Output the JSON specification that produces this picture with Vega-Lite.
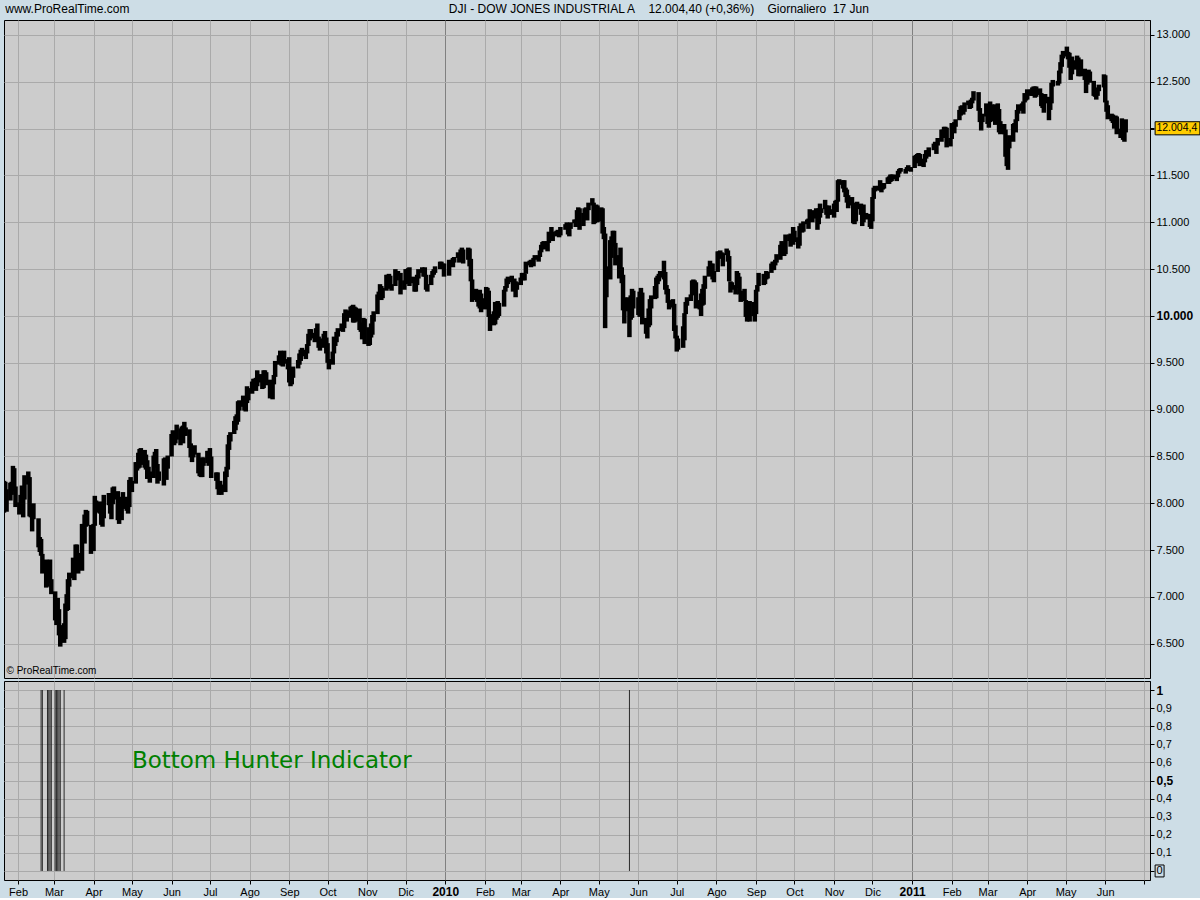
{
"$schema":"https://vega.github.io/schema/vega-lite/v6.json",
"background":"#cddde6",
"padding":{"left":3,"top":2,"right":0,"bottom":0},
"spacing":1,
"config":{
"view":{"stroke":"#000000","strokeWidth":1,"fill":"#cccccc"},
"font":"Liberation Sans",
"axis":{"labelFont":"Liberation Sans","labelFontSize":11,"labelColor":"#000000","gridColor":"#aaaaaa","gridWidth":1,"gridOpacity":1,"tickColor":"#000000","domainColor":"#000000","title":null}
},
"datasets":{
"dji":[
{"d":"2009-01-21","l":7900,"h":8240},{"d":"2009-01-22","l":7980,"h":8230},{"d":"2009-01-23","l":7910,"h":8150},{"d":"2009-01-26","l":8030,"h":8220},{"d":"2009-01-27","l":8090,"h":8230},{"d":"2009-01-28","l":8175,"h":8400},{"d":"2009-01-29","l":8130,"h":8375},{"d":"2009-01-30","l":7960,"h":8180},
{"d":"2009-02-02","l":7880,"h":8010},{"d":"2009-02-03","l":7910,"h":8090},{"d":"2009-02-04","l":7970,"h":8190},{"d":"2009-02-05","l":7850,"h":8100},{"d":"2009-02-06","l":8040,"h":8300},{"d":"2009-02-09","l":8200,"h":8340},{"d":"2009-02-10","l":7860,"h":8280},{"d":"2009-02-11","l":7850,"h":7990},{"d":"2009-02-12","l":7700,"h":7950},{"d":"2009-02-13","l":7830,"h":8000},{"d":"2009-02-17","l":7530,"h":7840},{"d":"2009-02-18","l":7480,"h":7640},{"d":"2009-02-19","l":7440,"h":7620},{"d":"2009-02-20","l":7250,"h":7460},{"d":"2009-02-23","l":7100,"h":7400},{"d":"2009-02-24","l":7110,"h":7370},{"d":"2009-02-25","l":7150,"h":7380},{"d":"2009-02-26","l":7170,"h":7400},{"d":"2009-02-27","l":7030,"h":7190},
{"d":"2009-03-02","l":6750,"h":7060},{"d":"2009-03-03","l":6700,"h":6880},{"d":"2009-03-04","l":6730,"h":6990},{"d":"2009-03-05","l":6590,"h":6870},{"d":"2009-03-06","l":6470,"h":6700},{"d":"2009-03-09","l":6510,"h":6720},{"d":"2009-03-10","l":6550,"h":6930},{"d":"2009-03-11","l":6850,"h":7030},{"d":"2009-03-12","l":6860,"h":7190},{"d":"2009-03-13","l":7110,"h":7260},{"d":"2009-03-16","l":7200,"h":7420},{"d":"2009-03-17","l":7180,"h":7400},{"d":"2009-03-18","l":7300,"h":7560},{"d":"2009-03-19","l":7370,"h":7560},{"d":"2009-03-20","l":7250,"h":7470},{"d":"2009-03-23","l":7280,"h":7780},{"d":"2009-03-24","l":7640,"h":7780},{"d":"2009-03-25","l":7570,"h":7880},{"d":"2009-03-26","l":7750,"h":7930},{"d":"2009-03-27","l":7760,"h":7920},{"d":"2009-03-30","l":7460,"h":7770},{"d":"2009-03-31","l":7530,"h":7750},
{"d":"2009-04-01","l":7490,"h":7780},{"d":"2009-04-02","l":7760,"h":8080},{"d":"2009-04-03","l":7900,"h":8030},{"d":"2009-04-06","l":7890,"h":8020},{"d":"2009-04-07","l":7770,"h":7970},{"d":"2009-04-08","l":7750,"h":7880},{"d":"2009-04-09","l":7840,"h":8090},{"d":"2009-04-13","l":7980,"h":8110},{"d":"2009-04-14","l":7890,"h":8060},{"d":"2009-04-15","l":7830,"h":8040},{"d":"2009-04-16","l":7990,"h":8170},{"d":"2009-04-17","l":8040,"h":8180},{"d":"2009-04-20","l":7820,"h":8130},{"d":"2009-04-21","l":7780,"h":7990},{"d":"2009-04-22","l":7860,"h":8070},{"d":"2009-04-23","l":7820,"h":7990},{"d":"2009-04-24","l":7940,"h":8120},{"d":"2009-04-27","l":7920,"h":8070},{"d":"2009-04-28","l":7890,"h":8030},{"d":"2009-04-29","l":7960,"h":8250},{"d":"2009-04-30","l":8130,"h":8280},
{"d":"2009-05-01","l":8120,"h":8240},{"d":"2009-05-04","l":8210,"h":8440},{"d":"2009-05-05","l":8350,"h":8440},{"d":"2009-05-06","l":8370,"h":8540},{"d":"2009-05-07","l":8380,"h":8580},{"d":"2009-05-08","l":8410,"h":8590},{"d":"2009-05-11","l":8380,"h":8570},{"d":"2009-05-12","l":8360,"h":8520},{"d":"2009-05-13","l":8260,"h":8460},{"d":"2009-05-14","l":8270,"h":8390},{"d":"2009-05-15","l":8220,"h":8340},{"d":"2009-05-18","l":8270,"h":8510},{"d":"2009-05-19","l":8420,"h":8550},{"d":"2009-05-20","l":8380,"h":8580},{"d":"2009-05-21","l":8210,"h":8420},{"d":"2009-05-22","l":8240,"h":8340},{"d":"2009-05-26","l":8190,"h":8480},{"d":"2009-05-27","l":8290,"h":8490},{"d":"2009-05-28","l":8250,"h":8420},{"d":"2009-05-29","l":8370,"h":8510},
{"d":"2009-06-01","l":8500,"h":8740},{"d":"2009-06-02","l":8670,"h":8780},{"d":"2009-06-03","l":8620,"h":8740},{"d":"2009-06-04","l":8640,"h":8760},{"d":"2009-06-05","l":8680,"h":8840},{"d":"2009-06-08","l":8620,"h":8800},{"d":"2009-06-09","l":8720,"h":8820},{"d":"2009-06-10","l":8640,"h":8830},{"d":"2009-06-11","l":8720,"h":8870},{"d":"2009-06-12","l":8720,"h":8810},{"d":"2009-06-15","l":8590,"h":8790},{"d":"2009-06-16","l":8490,"h":8640},{"d":"2009-06-17","l":8440,"h":8560},{"d":"2009-06-18","l":8490,"h":8600},{"d":"2009-06-19","l":8520,"h":8620},{"d":"2009-06-22","l":8320,"h":8540},{"d":"2009-06-23","l":8290,"h":8390},{"d":"2009-06-24","l":8280,"h":8420},{"d":"2009-06-25","l":8280,"h":8490},{"d":"2009-06-26","l":8400,"h":8490},{"d":"2009-06-29","l":8430,"h":8560},{"d":"2009-06-30","l":8400,"h":8560},
{"d":"2009-07-01","l":8450,"h":8590},{"d":"2009-07-02","l":8270,"h":8500},{"d":"2009-07-06","l":8240,"h":8330},{"d":"2009-07-07","l":8150,"h":8330},{"d":"2009-07-08","l":8090,"h":8210},{"d":"2009-07-09","l":8140,"h":8240},{"d":"2009-07-10","l":8090,"h":8200},{"d":"2009-07-13","l":8120,"h":8340},{"d":"2009-07-14","l":8280,"h":8390},{"d":"2009-07-15","l":8360,"h":8630},{"d":"2009-07-16","l":8570,"h":8730},{"d":"2009-07-17","l":8660,"h":8760},{"d":"2009-07-20","l":8740,"h":8880},{"d":"2009-07-21","l":8780,"h":8930},{"d":"2009-07-22","l":8840,"h":8950},{"d":"2009-07-23","l":8870,"h":9090},{"d":"2009-07-24","l":8990,"h":9100},{"d":"2009-07-27","l":9030,"h":9150},{"d":"2009-07-28","l":8990,"h":9110},{"d":"2009-07-29","l":8980,"h":9090},{"d":"2009-07-30","l":9070,"h":9250},{"d":"2009-07-31","l":9100,"h":9230},
{"d":"2009-08-03","l":9170,"h":9300},{"d":"2009-08-04","l":9230,"h":9330},{"d":"2009-08-05","l":9210,"h":9330},{"d":"2009-08-06","l":9200,"h":9340},{"d":"2009-08-07","l":9250,"h":9420},{"d":"2009-08-10","l":9290,"h":9380},{"d":"2009-08-11","l":9220,"h":9340},{"d":"2009-08-12","l":9230,"h":9420},{"d":"2009-08-13","l":9320,"h":9420},{"d":"2009-08-14","l":9260,"h":9400},{"d":"2009-08-17","l":9120,"h":9320},{"d":"2009-08-18","l":9130,"h":9240},{"d":"2009-08-19","l":9110,"h":9290},{"d":"2009-08-20","l":9270,"h":9370},{"d":"2009-08-21","l":9350,"h":9520},{"d":"2009-08-24","l":9480,"h":9580},{"d":"2009-08-25","l":9490,"h":9630},{"d":"2009-08-26","l":9470,"h":9580},{"d":"2009-08-27","l":9460,"h":9600},{"d":"2009-08-28","l":9490,"h":9630},{"d":"2009-08-31","l":9430,"h":9540},
{"d":"2009-09-01","l":9290,"h":9560},{"d":"2009-09-02","l":9250,"h":9340},{"d":"2009-09-03","l":9270,"h":9360},{"d":"2009-09-04","l":9340,"h":9460},{"d":"2009-09-08","l":9440,"h":9530},{"d":"2009-09-09","l":9480,"h":9600},{"d":"2009-09-10","l":9520,"h":9640},{"d":"2009-09-11","l":9570,"h":9660},{"d":"2009-09-14","l":9540,"h":9640},{"d":"2009-09-15","l":9600,"h":9700},{"d":"2009-09-16","l":9680,"h":9810},{"d":"2009-09-17","l":9740,"h":9860},{"d":"2009-09-18","l":9760,"h":9860},{"d":"2009-09-21","l":9720,"h":9820},{"d":"2009-09-22","l":9770,"h":9870},{"d":"2009-09-23","l":9740,"h":9920},{"d":"2009-09-24","l":9660,"h":9780},{"d":"2009-09-25","l":9630,"h":9760},{"d":"2009-09-28","l":9660,"h":9810},{"d":"2009-09-29","l":9710,"h":9840},{"d":"2009-09-30","l":9600,"h":9770},
{"d":"2009-10-01","l":9500,"h":9710},{"d":"2009-10-02","l":9430,"h":9540},{"d":"2009-10-05","l":9480,"h":9620},{"d":"2009-10-06","l":9600,"h":9780},{"d":"2009-10-07","l":9680,"h":9750},{"d":"2009-10-08","l":9720,"h":9830},{"d":"2009-10-09","l":9780,"h":9870},{"d":"2009-10-12","l":9840,"h":9920},{"d":"2009-10-13","l":9830,"h":9890},{"d":"2009-10-14","l":9870,"h":10030},{"d":"2009-10-15","l":9960,"h":10070},{"d":"2009-10-16","l":9940,"h":10060},{"d":"2009-10-19","l":9980,"h":10100},{"d":"2009-10-20","l":9990,"h":10110},{"d":"2009-10-21","l":9930,"h":10120},{"d":"2009-10-22","l":9930,"h":10100},{"d":"2009-10-23","l":9940,"h":10090},{"d":"2009-10-26","l":9850,"h":10080},{"d":"2009-10-27","l":9830,"h":9930},{"d":"2009-10-28","l":9750,"h":9890},{"d":"2009-10-29","l":9760,"h":9980},{"d":"2009-10-30","l":9700,"h":9970},
{"d":"2009-11-02","l":9680,"h":9880},{"d":"2009-11-03","l":9690,"h":9800},{"d":"2009-11-04","l":9770,"h":9920},{"d":"2009-11-05","l":9800,"h":10010},{"d":"2009-11-06","l":9940,"h":10050},{"d":"2009-11-09","l":10020,"h":10230},{"d":"2009-11-10","l":10180,"h":10260},{"d":"2009-11-11","l":10240,"h":10340},{"d":"2009-11-12","l":10170,"h":10320},{"d":"2009-11-13","l":10190,"h":10300},{"d":"2009-11-16","l":10270,"h":10440},{"d":"2009-11-17","l":10360,"h":10440},{"d":"2009-11-18","l":10380,"h":10450},{"d":"2009-11-19","l":10290,"h":10430},{"d":"2009-11-20","l":10270,"h":10340},{"d":"2009-11-23","l":10320,"h":10500},{"d":"2009-11-24","l":10380,"h":10460},{"d":"2009-11-25","l":10430,"h":10480},{"d":"2009-11-27","l":10230,"h":10460},{"d":"2009-11-30","l":10280,"h":10380},
{"d":"2009-12-01","l":10340,"h":10500},{"d":"2009-12-02","l":10430,"h":10500},{"d":"2009-12-03","l":10350,"h":10510},{"d":"2009-12-04","l":10320,"h":10520},{"d":"2009-12-07","l":10350,"h":10420},{"d":"2009-12-08","l":10260,"h":10390},{"d":"2009-12-09","l":10260,"h":10360},{"d":"2009-12-10","l":10330,"h":10440},{"d":"2009-12-11","l":10400,"h":10500},{"d":"2009-12-14","l":10460,"h":10520},{"d":"2009-12-15","l":10420,"h":10510},{"d":"2009-12-16","l":10420,"h":10520},{"d":"2009-12-17","l":10280,"h":10440},{"d":"2009-12-18","l":10260,"h":10340},{"d":"2009-12-21","l":10330,"h":10440},{"d":"2009-12-22","l":10410,"h":10480},{"d":"2009-12-23","l":10440,"h":10500},{"d":"2009-12-24","l":10460,"h":10530},{"d":"2009-12-28","l":10500,"h":10580},{"d":"2009-12-29","l":10530,"h":10580},{"d":"2009-12-30","l":10510,"h":10560},{"d":"2009-12-31","l":10420,"h":10560},
{"d":"2010-01-04","l":10430,"h":10600},{"d":"2010-01-05","l":10540,"h":10590},{"d":"2010-01-06","l":10550,"h":10600},{"d":"2010-01-07","l":10520,"h":10620},{"d":"2010-01-08","l":10570,"h":10630},{"d":"2010-01-11","l":10620,"h":10680},{"d":"2010-01-12","l":10570,"h":10660},{"d":"2010-01-13","l":10600,"h":10710},{"d":"2010-01-14","l":10660,"h":10730},{"d":"2010-01-15","l":10560,"h":10710},{"d":"2010-01-19","l":10600,"h":10730},{"d":"2010-01-20","l":10530,"h":10720},{"d":"2010-01-21","l":10370,"h":10610},{"d":"2010-01-22","l":10150,"h":10390},{"d":"2010-01-25","l":10170,"h":10290},{"d":"2010-01-26","l":10150,"h":10270},{"d":"2010-01-27","l":10100,"h":10260},{"d":"2010-01-28","l":10080,"h":10280},{"d":"2010-01-29","l":10040,"h":10240},
{"d":"2010-02-01","l":10070,"h":10190},{"d":"2010-02-02","l":10180,"h":10310},{"d":"2010-02-03","l":10250,"h":10300},{"d":"2010-02-04","l":9990,"h":10270},{"d":"2010-02-05","l":9840,"h":10020},{"d":"2010-02-08","l":9900,"h":10050},{"d":"2010-02-09","l":9910,"h":10150},{"d":"2010-02-10","l":9960,"h":10090},{"d":"2010-02-11","l":9980,"h":10160},{"d":"2010-02-12","l":10000,"h":10140},{"d":"2010-02-16","l":10100,"h":10280},{"d":"2010-02-17","l":10260,"h":10320},{"d":"2010-02-18","l":10300,"h":10400},{"d":"2010-02-19","l":10340,"h":10420},{"d":"2010-02-22","l":10360,"h":10430},{"d":"2010-02-23","l":10260,"h":10390},{"d":"2010-02-24","l":10280,"h":10400},{"d":"2010-02-25","l":10200,"h":10370},{"d":"2010-02-26","l":10280,"h":10360},
{"d":"2010-03-01","l":10330,"h":10410},{"d":"2010-03-02","l":10390,"h":10460},{"d":"2010-03-03","l":10380,"h":10460},{"d":"2010-03-04","l":10380,"h":10450},{"d":"2010-03-05","l":10450,"h":10580},{"d":"2010-03-08","l":10540,"h":10590},{"d":"2010-03-09","l":10520,"h":10600},{"d":"2010-03-10","l":10540,"h":10600},{"d":"2010-03-11","l":10530,"h":10620},{"d":"2010-03-12","l":10600,"h":10650},{"d":"2010-03-15","l":10580,"h":10650},{"d":"2010-03-16","l":10630,"h":10700},{"d":"2010-03-17","l":10680,"h":10760},{"d":"2010-03-18","l":10720,"h":10790},{"d":"2010-03-19","l":10710,"h":10800},{"d":"2010-03-22","l":10690,"h":10800},{"d":"2010-03-23","l":10780,"h":10900},{"d":"2010-03-24","l":10810,"h":10890},{"d":"2010-03-25","l":10830,"h":10950},{"d":"2010-03-26","l":10800,"h":10900},{"d":"2010-03-29","l":10850,"h":10910},{"d":"2010-03-30","l":10870,"h":10920},{"d":"2010-03-31","l":10840,"h":10910},
{"d":"2010-04-01","l":10860,"h":10950},{"d":"2010-04-05","l":10920,"h":10980},{"d":"2010-04-06","l":10930,"h":11000},{"d":"2010-04-07","l":10870,"h":10990},{"d":"2010-04-08","l":10850,"h":10950},{"d":"2010-04-09","l":10930,"h":11000},{"d":"2010-04-12","l":10990,"h":11030},{"d":"2010-04-13","l":10950,"h":11030},{"d":"2010-04-14","l":11020,"h":11130},{"d":"2010-04-15","l":11100,"h":11160},{"d":"2010-04-16","l":10920,"h":11150},{"d":"2010-04-19","l":10960,"h":11100},{"d":"2010-04-20","l":11090,"h":11150},{"d":"2010-04-21","l":11060,"h":11160},{"d":"2010-04-22","l":11020,"h":11150},{"d":"2010-04-23","l":11130,"h":11210},{"d":"2010-04-26","l":11180,"h":11258},{"d":"2010-04-27","l":10980,"h":11210},{"d":"2010-04-28","l":10990,"h":11080},{"d":"2010-04-29","l":11050,"h":11190},{"d":"2010-04-30","l":11000,"h":11180},
{"d":"2010-05-03","l":11010,"h":11160},{"d":"2010-05-04","l":10880,"h":11150},{"d":"2010-05-05","l":10820,"h":10950},{"d":"2010-05-06","l":9870,"h":10880},{"d":"2010-05-07","l":10200,"h":10530},{"d":"2010-05-10","l":10390,"h":10810},{"d":"2010-05-11","l":10620,"h":10850},{"d":"2010-05-12","l":10740,"h":10910},{"d":"2010-05-13","l":10760,"h":10910},{"d":"2010-05-14","l":10540,"h":10780},{"d":"2010-05-17","l":10400,"h":10650},{"d":"2010-05-18","l":10480,"h":10730},{"d":"2010-05-19","l":10350,"h":10520},{"d":"2010-05-20","l":10060,"h":10440},{"d":"2010-05-21","l":9920,"h":10200},{"d":"2010-05-24","l":10050,"h":10200},{"d":"2010-05-25","l":9774,"h":10060},{"d":"2010-05-26","l":9960,"h":10220},{"d":"2010-05-27","l":9980,"h":10290},{"d":"2010-05-28","l":10080,"h":10270},
{"d":"2010-06-01","l":10010,"h":10200},{"d":"2010-06-02","l":9990,"h":10260},{"d":"2010-06-03","l":10180,"h":10300},{"d":"2010-06-04","l":9910,"h":10250},{"d":"2010-06-07","l":9810,"h":9980},{"d":"2010-06-08","l":9760,"h":9960},{"d":"2010-06-09","l":9880,"h":10080},{"d":"2010-06-10","l":9900,"h":10180},{"d":"2010-06-11","l":10080,"h":10220},{"d":"2010-06-14","l":10180,"h":10320},{"d":"2010-06-15","l":10190,"h":10410},{"d":"2010-06-16","l":10340,"h":10430},{"d":"2010-06-17","l":10370,"h":10450},{"d":"2010-06-18","l":10410,"h":10480},{"d":"2010-06-21","l":10390,"h":10590},{"d":"2010-06-22","l":10280,"h":10470},{"d":"2010-06-23","l":10230,"h":10330},{"d":"2010-06-24","l":10140,"h":10290},{"d":"2010-06-25","l":10070,"h":10170},{"d":"2010-06-28","l":10090,"h":10180},{"d":"2010-06-29","l":9840,"h":10130},{"d":"2010-06-30","l":9760,"h":9900},
{"d":"2010-07-01","l":9620,"h":9790},{"d":"2010-07-02","l":9640,"h":9760},{"d":"2010-07-06","l":9660,"h":9890},{"d":"2010-07-07","l":9740,"h":10030},{"d":"2010-07-08","l":10020,"h":10150},{"d":"2010-07-09","l":10110,"h":10200},{"d":"2010-07-12","l":10160,"h":10230},{"d":"2010-07-13","l":10220,"h":10380},{"d":"2010-07-14","l":10310,"h":10390},{"d":"2010-07-15","l":10250,"h":10380},{"d":"2010-07-16","l":10080,"h":10360},{"d":"2010-07-19","l":10070,"h":10170},{"d":"2010-07-20","l":10000,"h":10240},{"d":"2010-07-21","l":10110,"h":10290},{"d":"2010-07-22","l":10120,"h":10340},{"d":"2010-07-23","l":10290,"h":10430},{"d":"2010-07-26","l":10420,"h":10530},{"d":"2010-07-27","l":10500,"h":10590},{"d":"2010-07-28","l":10480,"h":10560},{"d":"2010-07-29","l":10390,"h":10560},{"d":"2010-07-30","l":10360,"h":10480},
{"d":"2010-08-02","l":10470,"h":10690},{"d":"2010-08-03","l":10610,"h":10690},{"d":"2010-08-04","l":10620,"h":10700},{"d":"2010-08-05","l":10620,"h":10680},{"d":"2010-08-06","l":10530,"h":10670},{"d":"2010-08-09","l":10650,"h":10720},{"d":"2010-08-10","l":10580,"h":10700},{"d":"2010-08-11","l":10370,"h":10640},{"d":"2010-08-12","l":10250,"h":10370},{"d":"2010-08-13","l":10280,"h":10360},{"d":"2010-08-16","l":10230,"h":10330},{"d":"2010-08-17","l":10300,"h":10480},{"d":"2010-08-18","l":10350,"h":10460},{"d":"2010-08-19","l":10230,"h":10420},{"d":"2010-08-20","l":10150,"h":10270},{"d":"2010-08-23","l":10160,"h":10290},{"d":"2010-08-24","l":9990,"h":10170},{"d":"2010-08-25","l":9940,"h":10080},{"d":"2010-08-26","l":9980,"h":10090},{"d":"2010-08-27","l":9940,"h":10160},{"d":"2010-08-30","l":10000,"h":10150},{"d":"2010-08-31","l":9940,"h":10040},
{"d":"2010-09-01","l":10020,"h":10280},{"d":"2010-09-02","l":10260,"h":10330},{"d":"2010-09-03","l":10320,"h":10460},{"d":"2010-09-07","l":10330,"h":10450},{"d":"2010-09-08","l":10340,"h":10430},{"d":"2010-09-09","l":10390,"h":10480},{"d":"2010-09-10","l":10400,"h":10470},{"d":"2010-09-13","l":10460,"h":10560},{"d":"2010-09-14","l":10490,"h":10580},{"d":"2010-09-15","l":10490,"h":10580},{"d":"2010-09-16","l":10540,"h":10600},{"d":"2010-09-17","l":10570,"h":10660},{"d":"2010-09-20","l":10600,"h":10760},{"d":"2010-09-21","l":10700,"h":10800},{"d":"2010-09-22","l":10710,"h":10780},{"d":"2010-09-23","l":10640,"h":10730},{"d":"2010-09-24","l":10660,"h":10870},{"d":"2010-09-27","l":10800,"h":10870},{"d":"2010-09-28","l":10740,"h":10880},{"d":"2010-09-29","l":10780,"h":10870},{"d":"2010-09-30","l":10760,"h":10950},
{"d":"2010-10-01","l":10790,"h":10910},{"d":"2010-10-04","l":10720,"h":10840},{"d":"2010-10-05","l":10750,"h":10960},{"d":"2010-10-06","l":10930,"h":10990},{"d":"2010-10-07","l":10890,"h":10980},{"d":"2010-10-08","l":10900,"h":11010},{"d":"2010-10-11","l":10980,"h":11030},{"d":"2010-10-12","l":10930,"h":11040},{"d":"2010-10-13","l":11020,"h":11140},{"d":"2010-10-14","l":11040,"h":11110},{"d":"2010-10-15","l":11000,"h":11130},{"d":"2010-10-18","l":11040,"h":11150},{"d":"2010-10-19","l":10920,"h":11140},{"d":"2010-10-20","l":10980,"h":11150},{"d":"2010-10-21","l":11050,"h":11200},{"d":"2010-10-22","l":11100,"h":11150},{"d":"2010-10-25","l":11140,"h":11240},{"d":"2010-10-26","l":11080,"h":11180},{"d":"2010-10-27","l":11040,"h":11160},{"d":"2010-10-28","l":11080,"h":11180},{"d":"2010-10-29","l":11080,"h":11140},
{"d":"2010-11-01","l":11050,"h":11200},{"d":"2010-11-02","l":11120,"h":11230},{"d":"2010-11-03","l":11110,"h":11240},{"d":"2010-11-04","l":11220,"h":11450},{"d":"2010-11-05","l":11400,"h":11460},{"d":"2010-11-08","l":11360,"h":11450},{"d":"2010-11-09","l":11320,"h":11450},{"d":"2010-11-10","l":11270,"h":11370},{"d":"2010-11-11","l":11210,"h":11350},{"d":"2010-11-12","l":11150,"h":11290},{"d":"2010-11-15","l":11180,"h":11270},{"d":"2010-11-16","l":10990,"h":11200},{"d":"2010-11-17","l":10980,"h":11060},{"d":"2010-11-18","l":11010,"h":11210},{"d":"2010-11-19","l":11140,"h":11220},{"d":"2010-11-22","l":11080,"h":11200},{"d":"2010-11-23","l":10960,"h":11170},{"d":"2010-11-24","l":11000,"h":11190},{"d":"2010-11-26","l":11030,"h":11100},{"d":"2010-11-29","l":10950,"h":11090},{"d":"2010-11-30","l":10930,"h":11050},
{"d":"2010-12-01","l":11010,"h":11270},{"d":"2010-12-02","l":11250,"h":11370},{"d":"2010-12-03","l":11330,"h":11390},{"d":"2010-12-06","l":11340,"h":11390},{"d":"2010-12-07","l":11340,"h":11450},{"d":"2010-12-08","l":11320,"h":11390},{"d":"2010-12-09","l":11350,"h":11420},{"d":"2010-12-10","l":11360,"h":11420},{"d":"2010-12-13","l":11410,"h":11480},{"d":"2010-12-14","l":11410,"h":11490},{"d":"2010-12-15","l":11430,"h":11510},{"d":"2010-12-16","l":11440,"h":11510},{"d":"2010-12-17","l":11460,"h":11510},{"d":"2010-12-20","l":11440,"h":11510},{"d":"2010-12-21","l":11480,"h":11550},{"d":"2010-12-22","l":11520,"h":11570},{"d":"2010-12-23","l":11540,"h":11580},{"d":"2010-12-27","l":11520,"h":11570},{"d":"2010-12-28","l":11550,"h":11590},{"d":"2010-12-29","l":11560,"h":11610},{"d":"2010-12-30","l":11550,"h":11590},{"d":"2010-12-31","l":11540,"h":11590},
{"d":"2011-01-03","l":11580,"h":11710},{"d":"2011-01-04","l":11630,"h":11720},{"d":"2011-01-05","l":11650,"h":11730},{"d":"2011-01-06","l":11680,"h":11740},{"d":"2011-01-07","l":11600,"h":11730},{"d":"2011-01-10","l":11590,"h":11680},{"d":"2011-01-11","l":11640,"h":11730},{"d":"2011-01-12","l":11680,"h":11770},{"d":"2011-01-13","l":11710,"h":11770},{"d":"2011-01-14","l":11700,"h":11800},{"d":"2011-01-18","l":11770,"h":11840},{"d":"2011-01-19","l":11780,"h":11860},{"d":"2011-01-20","l":11730,"h":11830},{"d":"2011-01-21","l":11820,"h":11900},{"d":"2011-01-24","l":11860,"h":11990},{"d":"2011-01-25","l":11900,"h":11990},{"d":"2011-01-26","l":11950,"h":12020},{"d":"2011-01-27","l":11960,"h":12020},{"d":"2011-01-28","l":11800,"h":12010},{"d":"2011-01-31","l":11810,"h":11900},
{"d":"2011-02-01","l":11890,"h":12060},{"d":"2011-02-02","l":12000,"h":12050},{"d":"2011-02-03","l":11950,"h":12070},{"d":"2011-02-04","l":12020,"h":12100},{"d":"2011-02-07","l":12090,"h":12200},{"d":"2011-02-08","l":12140,"h":12240},{"d":"2011-02-09","l":12190,"h":12250},{"d":"2011-02-10","l":12150,"h":12240},{"d":"2011-02-11","l":12180,"h":12280},{"d":"2011-02-14","l":12250,"h":12300},{"d":"2011-02-15","l":12210,"h":12280},{"d":"2011-02-16","l":12220,"h":12310},{"d":"2011-02-17","l":12270,"h":12330},{"d":"2011-02-18","l":12300,"h":12400},{"d":"2011-02-22","l":12190,"h":12390},{"d":"2011-02-23","l":12070,"h":12220},{"d":"2011-02-24","l":11980,"h":12120},{"d":"2011-02-25","l":12070,"h":12160},{"d":"2011-02-28","l":12130,"h":12270},
{"d":"2011-03-01","l":12050,"h":12260},{"d":"2011-03-02","l":12010,"h":12130},{"d":"2011-03-03","l":12070,"h":12290},{"d":"2011-03-04","l":12080,"h":12260},{"d":"2011-03-07","l":12040,"h":12260},{"d":"2011-03-08","l":12070,"h":12250},{"d":"2011-03-09","l":12170,"h":12270},{"d":"2011-03-10","l":11960,"h":12210},{"d":"2011-03-11","l":11940,"h":12080},{"d":"2011-03-14","l":11940,"h":12050},{"d":"2011-03-15","l":11700,"h":11990},{"d":"2011-03-16","l":11600,"h":11850},{"d":"2011-03-17","l":11560,"h":11800},{"d":"2011-03-18","l":11790,"h":11930},{"d":"2011-03-21","l":11860,"h":12050},{"d":"2011-03-22","l":12000,"h":12060},{"d":"2011-03-23","l":11960,"h":12100},{"d":"2011-03-24","l":12080,"h":12200},{"d":"2011-03-25","l":12160,"h":12260},{"d":"2011-03-28","l":12190,"h":12270},{"d":"2011-03-29","l":12160,"h":12290},{"d":"2011-03-30","l":12280,"h":12380},{"d":"2011-03-31","l":12300,"h":12360},
{"d":"2011-04-01","l":12310,"h":12420},{"d":"2011-04-04","l":12350,"h":12420},{"d":"2011-04-05","l":12350,"h":12440},{"d":"2011-04-06","l":12380,"h":12450},{"d":"2011-04-07","l":12330,"h":12450},{"d":"2011-04-08","l":12340,"h":12450},{"d":"2011-04-11","l":12360,"h":12430},{"d":"2011-04-12","l":12240,"h":12380},{"d":"2011-04-13","l":12220,"h":12330},{"d":"2011-04-14","l":12170,"h":12290},{"d":"2011-04-15","l":12270,"h":12370},{"d":"2011-04-18","l":12090,"h":12340},{"d":"2011-04-19","l":12200,"h":12280},{"d":"2011-04-20","l":12270,"h":12490},{"d":"2011-04-21","l":12450,"h":12520},{"d":"2011-04-25","l":12460,"h":12510},{"d":"2011-04-26","l":12480,"h":12620},{"d":"2011-04-27","l":12590,"h":12710},{"d":"2011-04-28","l":12660,"h":12790},{"d":"2011-04-29","l":12750,"h":12830},
{"d":"2011-05-02","l":12770,"h":12876},{"d":"2011-05-03","l":12740,"h":12820},{"d":"2011-05-04","l":12650,"h":12810},{"d":"2011-05-05","l":12520,"h":12720},{"d":"2011-05-06","l":12580,"h":12770},{"d":"2011-05-09","l":12630,"h":12730},{"d":"2011-05-10","l":12680,"h":12780},{"d":"2011-05-11","l":12560,"h":12760},{"d":"2011-05-12","l":12560,"h":12710},{"d":"2011-05-13","l":12560,"h":12740},{"d":"2011-05-16","l":12520,"h":12640},{"d":"2011-05-17","l":12380,"h":12550},{"d":"2011-05-18","l":12470,"h":12580},{"d":"2011-05-19","l":12550,"h":12630},{"d":"2011-05-20","l":12490,"h":12610},{"d":"2011-05-23","l":12350,"h":12510},{"d":"2011-05-24","l":12340,"h":12420},{"d":"2011-05-25","l":12310,"h":12420},{"d":"2011-05-26","l":12350,"h":12440},{"d":"2011-05-27","l":12400,"h":12470},{"d":"2011-05-31","l":12440,"h":12580},
{"d":"2011-06-01","l":12280,"h":12570},{"d":"2011-06-02","l":12180,"h":12300},{"d":"2011-06-03","l":12100,"h":12250},{"d":"2011-06-06","l":12080,"h":12160},{"d":"2011-06-07","l":12060,"h":12150},{"d":"2011-06-08","l":12000,"h":12080},{"d":"2011-06-09","l":12050,"h":12140},{"d":"2011-06-10","l":11940,"h":12130},{"d":"2011-06-13","l":11900,"h":12000},{"d":"2011-06-14","l":11960,"h":12110},{"d":"2011-06-15","l":11880,"h":12070},{"d":"2011-06-16","l":11860,"h":12000},{"d":"2011-06-17","l":11960,"h":12100}
],
"signals":[
{"d":"2009-02-19","v":1},{"d":"2009-02-20","v":1},{"d":"2009-02-24","v":1},{"d":"2009-02-25","v":1},{"d":"2009-02-26","v":1},{"d":"2009-02-27","v":1},{"d":"2009-03-02","v":1},{"d":"2009-03-03","v":1},{"d":"2009-03-04","v":1},{"d":"2009-03-05","v":1},{"d":"2009-03-06","v":1},{"d":"2009-03-09","v":1},{"d":"2010-05-25","v":1}
]
},
"vconcat":[
{
"width":1146,"height":658,
"layer":[
{
"data":{"name":"dji"},
"mark":{"type":"rule","color":"#000000","strokeWidth":4.5,"clip":true},
"encoding":{
"x":{"field":"d","type":"temporal","scale":{"type":"utc","domain":[{"year":2009,"month":"jan","date":21,"utc":true},{"year":2011,"month":"jul","date":6,"utc":true}]},
"axis":{"labels":false,"ticks":false,"domain":false,"grid":true,"tickCount":{"interval":"month","step":1},"gridColor":{"condition":{"test":"utcmonth(datum.value)==0","value":"#808080"},"value":"#aaaaaa"}}},
"y":{"field":"l","type":"quantitative","scale":{"domain":[6135,13160],"nice":false,"zero":false},
"axis":{"orient":"right","values":[6500,7000,7500,8000,8500,9000,9500,10000,10500,11000,11500,12000,12004.4,12500,13000],
"labelExpr":"(datum.value==12004.4 || datum.value==12000) ? '' : replace(format(datum.value, ','), ',', '.')",
"labelFontWeight":{"condition":{"test":"datum.value==10000","value":"bold"},"value":"normal"},
"labelFontSize":{"condition":{"test":"datum.value==10000","value":12},"value":11},
"gridOpacity":{"condition":{"test":"datum.value==12004.4","value":0},"value":1},
"labelOverlap":false,"tickSize":4,"labelPadding":2,"grid":true}},
"y2":{"field":"h"}
}
},
{
"data":{"values":[{}]},
"mark":{"type":"text","text":"© ProRealTime.com","fontSize":10,"align":"left","baseline":"middle","color":"#000000"},
"encoding":{"x":{"datum":{"year":2009,"month":"jan","date":23,"utc":true},"type":"temporal"},"y":{"datum":6210}}
},
{
"data":{"values":[{}]},
"mark":{"type":"text","text":"www.ProRealTime.com","fontSize":12,"align":"left","baseline":"middle","color":"#000000"},
"encoding":{"x":{"datum":{"year":2009,"month":"jan","date":22,"utc":true},"type":"temporal"},"y":{"datum":13277}}
},
{
"data":{"values":[{}]},
"mark":{"type":"text","text":"DJI - DOW JONES INDUSTRIAL A\u00a0\u00a0\u00a0 12.004,40 (+0,36%)\u00a0\u00a0\u00a0 Giornaliero\u00a0 17 Jun","fontSize":12,"align":"center","baseline":"middle","color":"#000000"},
"encoding":{"x":{"datum":{"year":2010,"month":"jun","date":17,"utc":true},"type":"temporal"},"y":{"datum":13277}}
},
{
"data":{"values":[{}]},
"mark":{"type":"rect","fill":"#ffcc00","stroke":"#000000","strokeWidth":1},
"encoding":{"x":{"datum":{"year":2011,"month":"jul","date":10,"utc":true},"type":"temporal"},"x2":{"datum":{"year":2011,"month":"aug","date":14,"utc":true}},"y":{"datum":12074},"y2":{"datum":11934}}
},
{
"data":{"values":[{}]},
"mark":{"type":"text","text":"12.004,4","fontSize":10.5,"align":"center","baseline":"middle","color":"#000000"},
"encoding":{"x":{"datum":{"year":2011,"month":"jul","date":27,"utc":true},"type":"temporal"},"y":{"datum":12004.4}}
}
]
},
{
"width":1146,"height":199,
"layer":[
{
"data":{"name":"signals"},
"mark":{"type":"rule","color":"#000000","strokeWidth":0.8},
"encoding":{
"x":{"field":"d","type":"temporal","scale":{"type":"utc","domain":[{"year":2009,"month":"jan","date":21,"utc":true},{"year":2011,"month":"jul","date":6,"utc":true}]},
"axis":{"orient":"bottom","grid":true,"domain":false,"tickSize":4,"labelPadding":2,"labelOverlap":false,"labelFlush":false,"tickCount":{"interval":"month","step":1},
"gridColor":{"condition":{"test":"utcmonth(datum.value)==0","value":"#808080"},"value":"#aaaaaa"},
"labelExpr":"(utcyear(datum.value)==2011 && utcmonth(datum.value)>=6) ? '' : (utcmonth(datum.value)==0 ? ''+utcyear(datum.value) : ['Gen','Feb','Mar','Apr','May','Jun','Jul','Ago','Sep','Oct','Nov','Dic'][utcmonth(datum.value)])",
"labelFontWeight":{"condition":{"test":"utcmonth(datum.value)==0","value":"bold"},"value":"normal"},
"labelFontSize":{"condition":{"test":"utcmonth(datum.value)==0","value":12},"value":11}}},
"y":{"field":"v","type":"quantitative","scale":{"domain":[-0.05,1.05],"nice":false,"zero":false},
"axis":{"orient":"right","values":[0,0.1,0.2,0.3,0.4,0.5,0.6,0.7,0.8,0.9,1],"labelOverlap":false,"tickCount":11,
"labelExpr":"datum.value==1 ? '1' : (datum.value==0 ? '0' : replace(format(datum.value, '.1f'), '.', ','))",
"labelFontWeight":{"condition":{"test":"datum.value==1 || datum.value==0.5","value":"bold"},"value":"normal"},
"labelFontSize":{"condition":{"test":"datum.value==1 || datum.value==0.5","value":12},"value":11},
"tickSize":4,"labelPadding":2,"grid":true}},
"y2":{"datum":0}
}
},
{
"data":{"values":[{}]},
"mark":{"type":"text","text":"Bottom Hunter Indicator","font":"DejaVu Sans","fontSize":23,"align":"left","baseline":"middle","color":"#008000"},
"encoding":{"x":{"datum":{"year":2009,"month":"may","date":1,"utc":true},"type":"temporal"},"y":{"datum":0.608}}
},
{
"data":{"values":[{}]},
"mark":{"type":"rect","fillOpacity":0,"stroke":"#000000","strokeWidth":1},
"encoding":{"x":{"datum":{"year":2011,"month":"jul","date":10,"utc":true},"type":"temporal"},"x2":{"datum":{"year":2011,"month":"jul","date":17,"utc":true}},"y":{"datum":-0.033},"y2":{"datum":0.033}}
}
]
}
]
}
